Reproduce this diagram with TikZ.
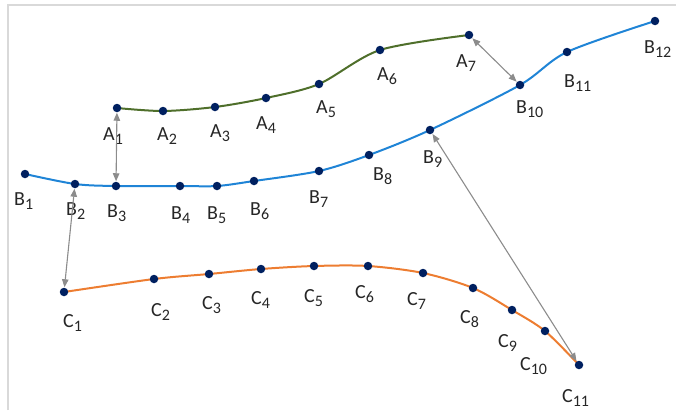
\documentclass[tikz,border=0pt]{standalone}
\usepackage{fontspec}
\setmainfont{Carlito}
\usetikzlibrary{arrows.meta,backgrounds}
\definecolor{ngreen}{HTML}{4F6F2B}
\definecolor{nblue}{HTML}{1F84D6}
\definecolor{norange}{HTML}{ED7D31}
\definecolor{ndot}{HTML}{002060}
\definecolor{ngray}{HTML}{8C8C8C}
\newcommand\idx[1]{\raisebox{-4pt}{\fontsize{16}{18}\selectfont #1}}

\begin{document}
\begin{tikzpicture}[x=1pt, y=-1pt,
  dot/.style={circle, fill=ndot, inner sep=0pt, minimum size=8.5pt, outer sep=0.5pt},
  lbl/.style={anchor=base west, inner sep=0pt, font=\fontsize{20}{24}\selectfont, text=black!85},
  curve/.style={line width=2pt},
  arr/.style={{Triangle[length=8pt,width=6.5pt]}-{Triangle[length=8pt,width=6.5pt]}, ngray, line width=1.1pt},
  frame/.style={draw=black!15, line width=1.5pt},
]
\useasboundingbox (0,0) rectangle (676,410);
\draw[frame] (8,410) |- (676,5);
% sample points with their labels
\foreach \n/\x/\y/\lx/\ly in {1/117/108/103/140, 2/163/111/157/140, 3/215/107/210/137, 4/266/98/256/129,
    5/319/84/316/113, 6/380/50/377/80, 7/469/35/456/67}
  {\node[dot] (a\n) at (\x,\y) {}; \node[lbl] (la\n) at (\lx,\ly) {A\idx{\n}};}
\foreach \n/\x/\y/\lx/\ly in {1/25/174/14/205, 2/75/184/66/215, 3/116/186/107/217, 4/180/186/171/219,
    5/217/186/207/219, 6/254/181/250/215, 7/319/171/309/203, 8/369/155/373/180, 9/430/130/423/163,
    10/520/85/516/113, 11/567/52/564/87, 12/655/21/644/53}
  {\node[dot] (b\n) at (\x,\y) {}; \node[lbl] (lb\n) at (\lx,\ly) {B\idx{\n}};}
\foreach \n/\x/\y/\lx/\ly in {1/64/292/63/327, 2/154/279/151/316, 3/209/274/202/309, 4/261/269/251/304,
    5/314/266/304/302, 6/368/266/355/298, 7/423/273/407/305, 8/473/288/460/323, 9/512/310/498/347,
    10/545/331/520/370, 11/579/365/562/402}
  {\node[dot] (c\n) at (\x,\y) {}; \node[lbl] (lc\n) at (\lx,\ly) {C\idx{\n}};}
\begin{scope}[on background layer]
\draw[curve, ngreen] plot[smooth] coordinates {(a1.center) (a2.center) (a3.center) (a4.center)
  (a5.center) (a6.center) (a7.center)};
\draw[curve, nblue] plot[smooth] coordinates {(b1.center) (b2.center) (b3.center) (b4.center)
  (b5.center) (b6.center) (b7.center) (b8.center) (b9.center) (b10.center) (b11.center) (b12.center)};
\draw[curve, norange] plot[smooth] coordinates {(c1.center) (c2.center) (c3.center) (c4.center)
  (c5.center) (c6.center) (c7.center) (c8.center) (c9.center) (c10.center) (c11.center)};
\end{scope}
\foreach \s/\t in {a1/b3, a7/b10, b2/c1, b9/c11} \draw[arr] (\s) -- (\t);
\end{tikzpicture}
\end{document}
